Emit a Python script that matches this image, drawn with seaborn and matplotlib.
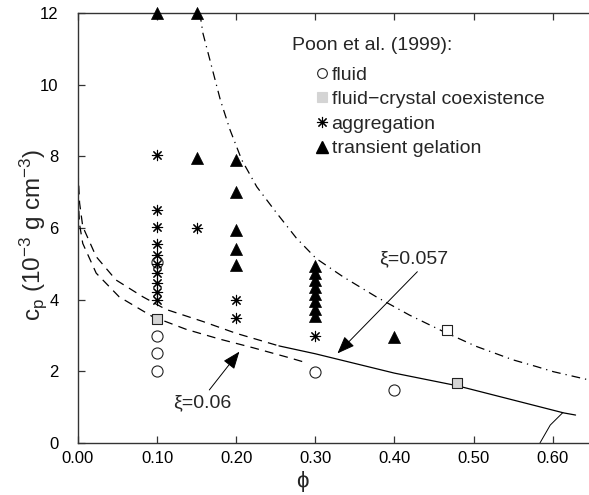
import matplotlib
matplotlib.use("Agg")
import matplotlib.pyplot as plt
import seaborn as sns
import pandas as pd
from matplotlib.lines import Line2D

# ---------------- data ----------------
fluid_phi = [0.10, 0.10, 0.10, 0.10, 0.30, 0.40]
fluid_cp = [2.0, 2.5, 3.0, 5.05, 1.97, 1.48]

coex_phi = [0.10, 0.479]
coex_cp = [3.47, 1.67]

open_sq_phi = [0.467]
open_sq_cp = [3.14]

aggr_phi = [0.10] * 10 + [0.15, 0.20, 0.20, 0.30]
aggr_cp = [4.0, 4.22, 4.47, 4.74, 5.0, 5.25, 5.55, 6.02, 6.5, 8.05, 6.0, 3.48, 4.0, 3.0]

gel_phi = [0.10, 0.15, 0.15, 0.20, 0.20, 0.20, 0.20, 0.20] + [0.30] * 8 + [0.40]
gel_cp = [12.0, 12.0, 7.95, 7.9, 7.0, 5.95, 5.42, 4.97,
          3.55, 3.75, 3.95, 4.15, 4.35, 4.55, 4.75, 4.95, 2.97]

# curves
dash_upper_phi = [0.0, 0.002, 0.006, 0.023, 0.048, 0.082, 0.111, 0.158, 0.20, 0.254]
dash_upper_cp = [7.6, 6.7, 6.04, 5.2, 4.55, 4.08, 3.73, 3.39, 3.06, 2.71]

dash_lower_phi = [0.0, 0.002, 0.006, 0.023, 0.052, 0.094, 0.137, 0.179, 0.221, 0.267, 0.284]
dash_lower_cp = [6.9, 6.1, 5.57, 4.74, 4.08, 3.53, 3.17, 2.9, 2.66, 2.38, 2.27]

solid_phi = [0.254, 0.30, 0.40, 0.479, 0.614, 0.629]
solid_cp = [2.71, 2.49, 1.95, 1.6, 0.84, 0.78]

steep_phi = [0.613, 0.597, 0.584]
steep_cp = [0.85, 0.5, 0.0]

dashdot_phi = [0.154, 0.158, 0.169, 0.18, 0.192, 0.207, 0.226, 0.25, 0.276, 0.301,
               0.335, 0.377, 0.419, 0.461, 0.503, 0.55, 0.58, 0.601, 0.646]
dashdot_cp = [12.0, 11.43, 10.5, 9.57, 8.75, 7.9, 7.15, 6.45, 5.72, 5.15,
              4.64, 4.08, 3.57, 3.12, 2.7, 2.32, 2.13, 1.99, 1.76]

x_ticks = [0.0, 0.1, 0.2, 0.3, 0.4, 0.5, 0.6]
y_ticks = [0, 2, 4, 6, 8, 10, 12]

legend_title = "Poon et al. (1999):"
legend_labels = ["fluid", "fluid\u2212crystal coexistence", "aggregation", "transient gelation"]

# ---------------- style ----------------
sns.set_style("ticks")
plt.rcParams["font.family"] = ["Liberation Sans", "DejaVu Sans"]
plt.rcParams["mathtext.default"] = "regular"

W, H = 589, 495
fig = plt.figure(figsize=(W / 100, H / 100), dpi=100)
ax = fig.add_axes([78 / W, 52 / H, (W - 78) / W, 430 / H])

ast = (8, 2, 0)
edge = "#222222"

df_fluid = pd.DataFrame({"phi": fluid_phi, "cp": fluid_cp})
df_coex = pd.DataFrame({"phi": coex_phi, "cp": coex_cp})
df_open = pd.DataFrame({"phi": open_sq_phi, "cp": open_sq_cp})
df_aggr = pd.DataFrame({"phi": aggr_phi, "cp": aggr_cp})
df_gel = pd.DataFrame({"phi": gel_phi, "cp": gel_cp})

def curve(xs, ys, lw=0.9, **kw):
    sns.lineplot(x=xs, y=ys, ax=ax, sort=False, estimator=None, color="black",
                 linewidth=lw, **kw)

curve(dash_upper_phi, dash_upper_cp, linestyle=(0, (7, 5)))
curve(dash_lower_phi, dash_lower_cp, linestyle=(0, (7, 5)))
curve(solid_phi, solid_cp)
curve(steep_phi, steep_cp, lw=0.7)
curve(dashdot_phi, dashdot_cp, linestyle=(0, (7, 4, 1, 4)))

sns.scatterplot(data=df_fluid, x="phi", y="cp", ax=ax, marker="o", s=64,
                facecolor="white", edgecolor=edge, linewidth=0.8, zorder=3)
sns.scatterplot(data=df_coex, x="phi", y="cp", ax=ax, marker="s", s=60,
                facecolor="#d4d4d4", edgecolor=edge, linewidth=0.8, zorder=3)
sns.scatterplot(data=df_open, x="phi", y="cp", ax=ax, marker="s", s=60,
                facecolor="white", edgecolor=edge, linewidth=0.8, zorder=3)
sns.scatterplot(data=df_aggr, x="phi", y="cp", ax=ax, marker=ast, s=55,
                color="black", linewidth=0.8, zorder=3)
sns.scatterplot(data=df_gel, x="phi", y="cp", ax=ax, marker="^", s=75,
                facecolor="black", edgecolor="black", linewidth=0.5, zorder=4,
                clip_on=False)

# axes
ax.set_xlim(0, 0.646)
ax.set_ylim(0, 12)
ax.set_xticks(x_ticks)
ax.set_xticklabels([f"{v:.2f}" for v in x_ticks])
ax.set_yticks(y_ticks)
ax.set_yticklabels([str(v) for v in y_ticks])
ax.tick_params(axis="both", direction="in", length=5, width=0.9, color="#333333",
               labelsize=12, labelcolor="black")
ax.tick_params(axis="x", top=True, pad=6)
ax.tick_params(axis="y", right=False, pad=14)
for side in ["left", "bottom", "top"]:
    ax.spines[side].set_color("#333333")
    ax.spines[side].set_linewidth(1.0)
ax.spines["right"].set_visible(False)

ax.set_xlabel("\u03d5", fontsize=16)
ax.xaxis.set_label_coords((302 - 78) / 511, (443 - 482) / 430)
ax.xaxis.label.set_va("center")
ax.set_ylabel(r"c$_{p}$ (10$^{-3}$ g cm$^{-3}$)", fontsize=17.5)
ax.yaxis.set_label_coords((33 - 78) / 511, (443 - 235) / 430)
ax.yaxis.label.set_va("center")

# annotations
ax.text(0.424, 5.13, "\u03be=0.057", fontsize=14, ha="center", va="center")
ax.annotate("", xy=(0.328, 2.50), xytext=(0.429, 4.78),
            arrowprops=dict(arrowstyle="-|>,head_length=0.9,head_width=0.35",
                            color="black", lw=0.7, shrinkA=0, shrinkB=0,
                            mutation_scale=12))
ax.text(0.157, 1.12, "\u03be=0.06", fontsize=14, ha="center", va="center")
ax.annotate("", xy=(0.204, 2.55), xytext=(0.166, 1.48),
            arrowprops=dict(arrowstyle="-|>,head_length=0.9,head_width=0.35",
                            color="black", lw=0.7, shrinkA=0, shrinkB=0,
                            mutation_scale=12))

# legend
fig.text(291.5 / W, 1 - 45 / H, legend_title, fontsize=14, ha="left", va="center")
handles = [
    Line2D([], [], linestyle="none", marker="o", markersize=7, markerfacecolor="white",
           markeredgecolor=edge, markeredgewidth=0.8),
    Line2D([], [], linestyle="none", marker="s", markersize=7, markerfacecolor="#d4d4d4",
           markeredgecolor="#d4d4d4", markeredgewidth=0.8),
    Line2D([], [], linestyle="none", marker=ast, markersize=8, color="black",
           markeredgewidth=0.8),
    Line2D([], [], linestyle="none", marker="^", markersize=8, color="black"),
]
ax.legend(handles, legend_labels, loc="upper left", bbox_to_anchor=(316 / W, 1 - 66 / H),
          bbox_transform=fig.transFigure, frameon=False, fontsize=14, borderpad=0,
          borderaxespad=0, handlelength=0.6, handletextpad=0.2, labelspacing=0.36)

fig.savefig("out.png", dpi=100)
